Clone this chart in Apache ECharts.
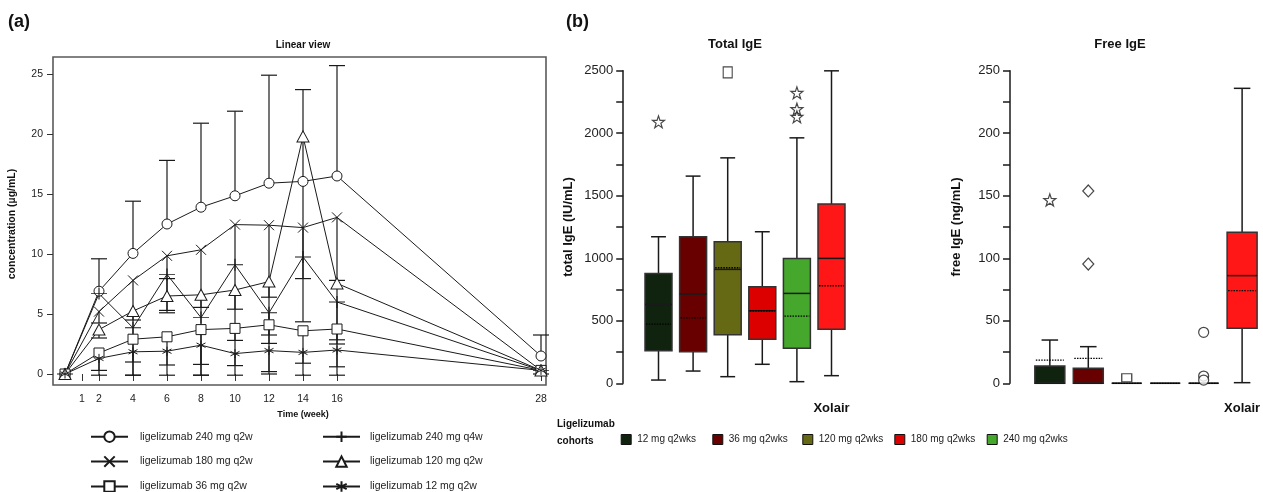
<!DOCTYPE html>
<html>
<head>
<meta charset="utf-8">
<title>Ligelizumab concentration and IgE</title>
<script src="https://cdn.jsdelivr.net/npm/echarts@6/dist/echarts.min.js"></script>
<style>
  html, body { margin: 0; padding: 0; background: #fff; }
  #chart { width: 1263px; height: 492px; }
</style>
</head>
<body>
<div id="chart"></div>
<script>
// ---- panel (a): ligelizumab concentration (ug/mL) by week ----
const weeks = [0, 2, 4, 6, 8, 10, 12, 14, 16, 28];
const weekTicks = [1, 2, 4, 6, 8, 10, 12, 14, 16, 28];
const weekCategories = Array.from({ length: 29 }, (_, i) => String(i));

const mean240q2w = [0, 6.9, 10.05, 12.5, 13.9, 14.85, 15.9, 16.05, 16.5, 1.5];
const up240q2w   = [null, 9.6, 14.4, 17.8, 20.9, 21.9, 24.9, null, 25.7, 3.25];

const mean240q4w = [0, 6.7, 3.85, 8.3, 4.7, 9.1, 5.1, 9.75, 6.0, 0.3];
const down240q4w = [null, null, null, null, null, null, 0.0, null, -0.1, null];

const mean180q2w = [0, 5.2, 7.8, 9.85, 10.35, 12.45, 12.4, 12.2, 13.05, 0.3];
const down180q2w = [null, 4.25, 4.5, 5.3, 5.55, 5.4, 6.4, 4.35, 7.8, null];

const mean120q2w = [0, 3.7, 5.25, 6.5, 6.6, 7.0, 7.7, 19.8, 7.55, 0.3];
const up120q2w   = [null, null, null, 7.95, null, null, null, 23.7, null, null];
const down120q2w = [null, 3.0, 1.0, 5.1, 0.8, 2.8, 3.25, 7.95, 2.85, null];

const mean36q2w  = [0, 1.75, 2.9, 3.1, 3.7, 3.8, 4.1, 3.6, 3.75, 0.3];
const down36q2w  = [null, 0.3, -0.1, 0.75, -0.1, 0.7, 2.55, 0.9, 2.5, null];

const mean12q2w  = [0, 1.3, 1.85, 1.9, 2.4, 1.7, 1.95, 1.8, 2.0, 0.3];
const down12q2w  = [null, -0.1, -0.1, -0.1, -0.1, -0.1, 0.2, -0.1, 0.6, 0.0];

// ---- panel (b): total and free IgE box plots ----
const cohorts = ['12 mg q2wks', '36 mg q2wks', '120 mg q2wks', '180 mg q2wks', '240 mg q2wks', 'Xolair'];
const cohortColors = ['#10230f', '#690000', '#666913', '#dc0000', '#45a72c', '#ff1616'];
const boxCategories = ['', '', '', '', '', 'Xolair'];

const totalMin  = [26, 98, 53, 152, 13, 61];
const totalQ1   = [261, 253, 389, 352, 280, 432];
const totalMed  = [631, 714, 911, 580, 719, 999];
const totalMean = [474, 524, 924, 580, 538, 780];
const totalQ3   = [879, 1172, 1132, 772, 999, 1433];
const totalMax  = [1172, 1657, 1803, 1212, 1963, 2499];
const totalStarOutliers   = [[0, 2091], [4, 2323], [4, 2193], [4, 2131]];
const totalSquareOutliers = [[2, 2486]];

const freeMin  = [0, 0, 0, 0, 0, 0.5];
const freeQ1   = [0, 0, 0, 0, 0, 44.0];
const freeMed  = [0, 0, 0, 0, 0, 86.1];
const freeMean = [18.6, 20.0, 0, 0, 0, 74.1];
const freeQ3   = [13.8, 12.0, 0, 0, 0, 120.8];
const freeMax  = [34.6, 29.3, 0, 0, 0, 235.9];
const freeStarOutliers    = [[0, 146.6]];
const freeDiamondOutliers = [[1, 153.8], [1, 95.4]];
const freeSquareOutliers  = [[2, 4.5]];
const freeCircleOutliers  = [[4, 40.8], [4, 5.8], [4, 2.6]];

const SYM_X = 'path://M-5,-5L5,5M-5,5L5,-5';
const SYM_PLUS = 'path://M-8,0L8,0M0,-6L0,6';
const SYM_AST = 'path://M0,-5L0,5M-4.4,-2.5L4.4,2.5M-4.4,2.5L4.4,-2.5';
const SYM_STAR = 'path://M0,-10L2.35,-3.24L9.51,-3.09L3.8,1.24L5.88,8.09L0,4L-5.88,8.09L-3.8,1.24L-9.51,-3.09L-2.35,-3.24Z';

const FONT = 'Liberation Sans, Arial, Helvetica, sans-serif';
const INK = '#1a1a1a';

const pkGroups = [
  { name: 'ligelizumab 240 mg q2w', symbol: 'circle', size: 10, mean: mean240q2w, up: up240q2w },
  { name: 'ligelizumab 180 mg q2w', symbol: SYM_X, size: 10, mean: mean180q2w, down: down180q2w },
  { name: 'ligelizumab 36 mg q2w', symbol: 'rect', size: 10, mean: mean36q2w, down: down36q2w },
  { name: 'ligelizumab 240 mg q4w', symbol: SYM_PLUS, size: [16, 12], mean: mean240q4w, down: down240q4w },
  { name: 'ligelizumab 120 mg q2w', symbol: 'triangle', size: [12, 11], mean: mean120q2w, up: up120q2w, down: down120q2w },
  { name: 'ligelizumab 12 mg q2w', symbol: SYM_AST, size: 9, mean: mean12q2w, down: down12q2w }
];

function errorBarItem(params, api) {
  const a = api.coord([api.value(0), api.value(1)]);
  const b = api.coord([api.value(0), api.value(2)]);
  const style = { stroke: INK, lineWidth: 1.2 };
  return {
    type: 'group',
    children: [
      { type: 'line', shape: { x1: a[0], y1: a[1], x2: b[0], y2: b[1] }, style },
      { type: 'line', shape: { x1: b[0] - 8, y1: b[1], x2: b[0] + 8, y2: b[1] }, style }
    ]
  };
}

function boxItem(params, api) {
  const c = api.value(0);
  const band = api.size([1, 0])[0];
  const bw = band * 0.78, cw = band * 0.43;
  const x = api.coord([c, 0])[0];
  const y = v => api.coord([c, v])[1];
  const lo = api.value(1), q1 = api.value(2), med = api.value(3);
  const q3 = api.value(4), hi = api.value(5), mean = api.value(6);
  const ink = { stroke: INK, lineWidth: 1.5 };
  const kids = [];
  if (hi > q3) {
    kids.push({ type: 'line', shape: { x1: x, y1: y(q3), x2: x, y2: y(hi) }, style: ink });
    kids.push({ type: 'line', shape: { x1: x - cw / 2, y1: y(hi), x2: x + cw / 2, y2: y(hi) }, style: ink });
  }
  if (lo < q1) {
    kids.push({ type: 'line', shape: { x1: x, y1: y(q1), x2: x, y2: y(lo) }, style: ink });
    kids.push({ type: 'line', shape: { x1: x - cw / 2, y1: y(lo), x2: x + cw / 2, y2: y(lo) }, style: ink });
  }
  kids.push({
    type: 'rect',
    shape: { x: x - bw / 2, y: y(q3), width: bw, height: y(q1) - y(q3) },
    style: { fill: api.visual('color'), stroke: '#333', lineWidth: 1.5 }
  });
  kids.push({ type: 'line', shape: { x1: x - bw / 2, y1: y(med), x2: x + bw / 2, y2: y(med) }, style: ink });
  kids.push({
    type: 'line',
    shape: { x1: x - bw / 2 + 1, y1: y(mean), x2: x + bw / 2 - 1, y2: y(mean) },
    style: { stroke: '#000', lineWidth: 1.3, lineDash: [1.5, 1.2] }
  });
  return { type: 'group', children: kids };
}

const series = [];

pkGroups.forEach(g => {
  const bars = [];
  weeks.forEach((w, i) => {
    if (g.up && g.up[i] != null) bars.push([w, g.mean[i], g.up[i]]);
    if (g.down && g.down[i] != null) bars.push([w, g.mean[i], g.down[i]]);
  });
  series.push({
    type: 'custom', name: g.name + ' sd', xAxisIndex: 1, yAxisIndex: 1,
    renderItem: errorBarItem, data: bars, z: 1, silent: true,
    encode: { x: 0, y: [1, 2] }
  });
});

pkGroups.forEach(g => {
  series.push({
    type: 'line', name: g.name, xAxisIndex: 1, yAxisIndex: 1,
    data: weeks.map((w, i) => [w, g.mean[i]]),
    symbol: g.symbol, symbolSize: g.size, showAllSymbol: true, clip: false,
    lineStyle: { color: INK, width: 1 },
    itemStyle: { color: '#fff', borderColor: INK, borderWidth: 1 },
    z: 3
  });
});

cohorts.forEach((name, i) => {
  series.push({
    type: 'custom', name, xAxisIndex: 2, yAxisIndex: 2,
    itemStyle: { color: cohortColors[i] },
    renderItem: boxItem,
    encode: { x: 0, y: [1, 2, 3, 4, 5, 6] },
    data: [[i, totalMin[i], totalQ1[i], totalMed[i], totalQ3[i], totalMax[i], totalMean[i]]]
  });
  series.push({
    type: 'custom', name, xAxisIndex: 3, yAxisIndex: 3,
    itemStyle: { color: cohortColors[i] },
    renderItem: boxItem,
    encode: { x: 0, y: [1, 2, 3, 4, 5, 6] },
    data: [[i, freeMin[i], freeQ1[i], freeMed[i], freeQ3[i], freeMax[i], freeMean[i]]]
  });
});

const outlierStyle = { color: '#fff', borderColor: INK, borderWidth: 1.2 };
[
  [2, totalStarOutliers, SYM_STAR, 12],
  [2, totalSquareOutliers, 'rect', [9, 11]],
  [3, freeStarOutliers, SYM_STAR, 12],
  [3, freeDiamondOutliers, 'diamond', [11, 12]],
  [3, freeSquareOutliers, 'rect', [10, 8]],
  [3, freeCircleOutliers, 'circle', 10]
].forEach(([ax, data, symbol, size]) => {
  series.push({
    type: 'scatter', xAxisIndex: ax, yAxisIndex: ax, data, symbol, symbolSize: size,
    itemStyle: outlierStyle, z: 5
  });
});

const tickLabel = { color: '#222', fontFamily: FONT };
const boldName = { color: '#111', fontFamily: FONT, fontWeight: 'bold' };

// panel (a) legend: two columns of three
const pkLegends = [[0, 1, 2], [3, 4, 5]].map((col, k) => ({
  data: col.map(i => pkGroups[i].name),
  orient: 'vertical', left: k === 0 ? 90 : 322, top: 430.5, height: 100,
  itemWidth: 37, itemHeight: 13, itemGap: 12.5,
  selectedMode: false, padding: 0,
  textStyle: { fontSize: 10.5, color: '#222', padding: [0, 0, 0, k === 0 ? 7 : 5] }
}));

// panel (b) legend: one slot per cohort
const cohortLegendLeft = [620.7, 712.3, 802.3, 894.3, 986.7];
const cohortLegends = cohortLegendLeft.map((left, i) => ({
  data: [cohorts[i]],
  left, top: 434, itemWidth: 10, itemHeight: 10, icon: 'rect',
  selectedMode: false, padding: 0,
  itemStyle: { borderColor: '#111', borderWidth: 1 },
  textStyle: { fontSize: 10, color: '#222', padding: [0, 0, 0, 1] }
}));

const option = {
  animation: false,
  textStyle: { fontFamily: FONT },
  title: [
    { text: '(a)', left: 8, top: 13, padding: 0, textStyle: { fontSize: 18, fontWeight: 'bold', color: '#111' } },
    { text: 'Linear view', left: 303, top: 40, padding: 0, textAlign: 'center', textStyle: { fontSize: 10, fontWeight: 'bold', color: '#111' } },
    { text: '(b)', left: 566, top: 13, padding: 0, textStyle: { fontSize: 18, fontWeight: 'bold', color: '#111' } },
    { text: 'Total IgE', left: 735, top: 38, padding: 0, textAlign: 'center', textStyle: { fontSize: 13, fontWeight: 'bold', color: '#111' } },
    { text: 'Free IgE', left: 1120, top: 38, padding: 0, textAlign: 'center', textStyle: { fontSize: 13, fontWeight: 'bold', color: '#111' } },
    { text: 'Ligelizumab\ncohorts', left: 557, top: 416, padding: 0, textStyle: { fontSize: 10, fontWeight: 'bold', color: '#111', lineHeight: 17 } }
  ],
  legend: pkLegends.concat(cohortLegends),
  grid: [
    { left: 53, top: 57, width: 493, height: 328, show: true, borderColor: '#5a5a5a', borderWidth: 1.6, backgroundColor: 'transparent' },
    { left: 65, top: 74, width: 476, height: 300 },
    { left: 641.2, top: 70.7, width: 207.6, height: 312.6 },
    { left: 1030.6, top: 70.7, width: 232.8, height: 312.6 }
  ],
  xAxis: [
    { gridIndex: 0, type: 'value', show: false, min: 0, max: 1 },
    {
      gridIndex: 1, type: 'category', data: weekCategories, boundaryGap: false, offset: 11,
      axisLine: { show: false },
      axisTick: { length: 7, lineStyle: { color: '#333' }, interval: (i) => weekTicks.includes(i) },
      axisLabel: { ...tickLabel, fontSize: 10.5, margin: 9, interval: (i) => weekTicks.includes(i) },
      name: 'Time (week)', nameLocation: 'middle', nameGap: 21,
      nameTextStyle: { ...boldName, fontSize: 9 }
    },
    {
      gridIndex: 2, type: 'category', data: boxCategories,
      axisLine: { show: false }, axisTick: { show: false },
      axisLabel: { ...boldName, fontSize: 13, margin: 19, interval: 0 }
    },
    {
      gridIndex: 3, type: 'category', data: boxCategories,
      axisLine: { show: false }, axisTick: { show: false },
      axisLabel: { ...boldName, fontSize: 13, margin: 19, interval: 0 }
    }
  ],
  yAxis: [
    { gridIndex: 0, type: 'value', show: false, min: 0, max: 1 },
    {
      gridIndex: 1, type: 'value', min: 0, max: 25, interval: 5, offset: 12,
      axisLine: { show: false },
      axisTick: { show: true, length: 6, lineStyle: { color: '#333' } },
      splitLine: { show: false },
      axisLabel: { ...tickLabel, fontSize: 10.5, margin: 10 },
      name: 'concentration (µg/mL)', nameLocation: 'middle', nameGap: 35,
      nameTextStyle: { ...boldName, fontSize: 10.5 }
    },
    {
      gridIndex: 2, type: 'value', min: 0, max: 2500, interval: 500, offset: 18,
      axisLine: { show: true, lineStyle: { color: INK, width: 1.5 } },
      axisTick: { show: true, length: 7, lineStyle: { color: INK, width: 1.5 } },
      minorTick: { show: true, splitNumber: 2, length: 7, lineStyle: { color: INK, width: 1.5 } },
      splitLine: { show: false },
      axisLabel: { ...tickLabel, fontSize: 13, margin: 10, formatter: v => String(v) },
      name: 'total IgE (IU/mL)', nameLocation: 'middle', nameGap: 48,
      nameTextStyle: { ...boldName, fontSize: 13 }
    },
    {
      gridIndex: 3, type: 'value', min: 0, max: 250, interval: 50, offset: 20.6,
      axisLine: { show: true, lineStyle: { color: INK, width: 1.5 } },
      axisTick: { show: true, length: 7, lineStyle: { color: INK, width: 1.5 } },
      minorTick: { show: true, splitNumber: 2, length: 7, lineStyle: { color: INK, width: 1.5 } },
      splitLine: { show: false },
      axisLabel: { ...tickLabel, fontSize: 13, margin: 10, formatter: v => String(v) },
      name: 'free IgE (ng/mL)', nameLocation: 'middle', nameGap: 47,
      nameTextStyle: { ...boldName, fontSize: 13 }
    }
  ],
  series
};

const chart = echarts.init(document.getElementById('chart'), null, { renderer: 'canvas' });
chart.setOption(option);
</script>
</body>
</html>
